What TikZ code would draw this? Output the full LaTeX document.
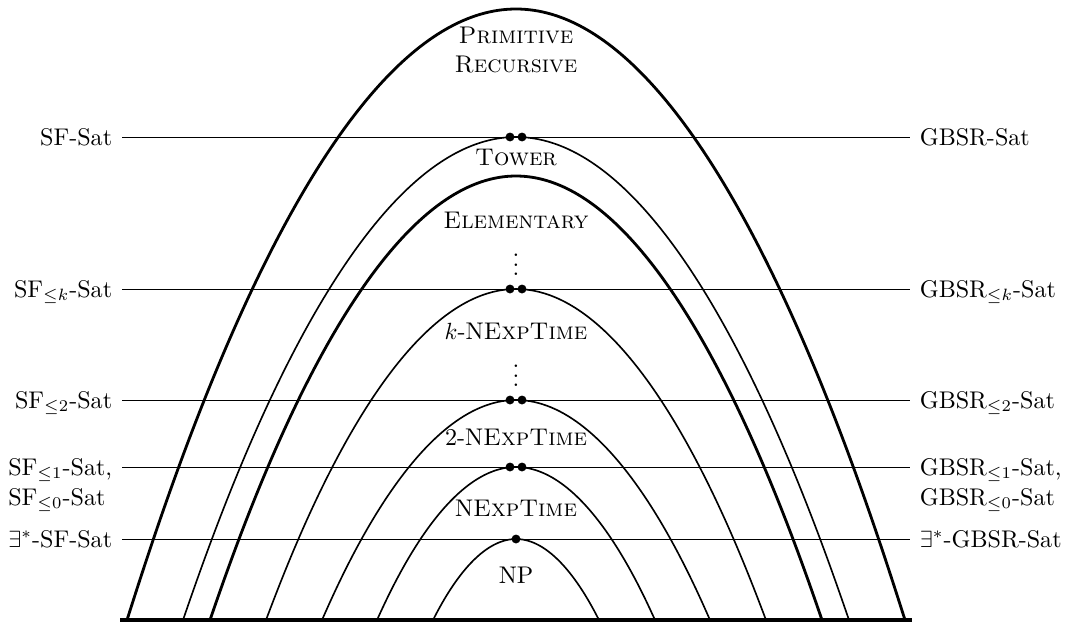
\documentclass[tikz,border=0pt]{standalone}
\usepackage{amssymb}
\begin{document}
\begin{tikzpicture}[x=0.01502cm,y=-0.01502cm,
  every node/.style={font=\fontsize{10.3}{12.4}\selectfont},
  arcthick/.style={line width=1.2pt},
  arcthin/.style={line width=0.7pt},
  hline/.style={line width=0.4pt},
  baseln/.style={line width=1.3pt},
  dotmark/.style={fill=black},
  lab/.style={inner xsep=4pt,inner ysep=0pt,text height=7pt,text depth=0pt},
  labL/.style={lab,anchor=east},
  labR/.style={lab,anchor=west},
  labW/.style={lab,anchor=west},
  cls/.style={inner sep=0pt,align=center}]
\useasboundingbox (0,0) rectangle (1071,622);
% arcs
\draw[arcthick] (127,620) parabola bend (516,9) (905,620);
\draw[arcthin] (183,620) parabola bend (516,137) (849,620);
\draw[arcthick] (210,620) parabola bend (516,176) (822,620);
\draw[arcthin] (266,620) parabola bend (516,289) (766,620);
\draw[arcthin] (322,620) parabola bend (516,400) (710,620);
\draw[arcthin] (377,620) parabola bend (516,467) (655,620);
\draw[arcthin] (433,620) parabola bend (516,539) (599,620);
\draw[baseln] (120,620) -- (912,620);
% class labels
\node[cls] (pr) at (516,50) {\textsc{Primitive}\\\textsc{Recursive}};
\node[cls] (tower) at (516,157) {\textsc{Tower}};
\node[cls] (elem) at (516,220) {\textsc{Elementary}};
\node[cls] (vd1) at (516,258) {$\vdots$};
\node[cls] (knexp) at (516,331) {$k$-N\textsc{ExpTime}};
\node[cls] (vd2) at (516,369) {$\vdots$};
\node[cls] (twonexp) at (516,437) {2-N\textsc{ExpTime}};
\node[cls] (nexp) at (516,508) {N\textsc{ExpTime}};
\node[cls] (np) at (516,575) {NP};
% problem labels
\node[labL] (sf) at (122,137) {SF-Sat};
\node[labR] (gb) at (910,137) {GBSR-Sat};
\node[labL] (sfk) at (122,289) {SF$_{\le k}$-Sat};
\node[labR] (gbk) at (910,289) {GBSR$_{\le k}$-Sat};
\node[labL] (sf2) at (122,400) {SF$_{\le 2}$-Sat};
\node[labR] (gb2) at (910,400) {GBSR$_{\le 2}$-Sat};
\node[labL] (sf1) at (122,467) {SF$_{\le 1}$-Sat,};
\node[labW] (sf0) at ([yshift=-12.8pt]sf1.west) {SF$_{\le 0}$-Sat};
\node[labR] (gb1) at (910,467) {GBSR$_{\le 1}$-Sat,};
\node[labW] (gb0) at ([yshift=-12.8pt]gb1.west) {GBSR$_{\le 0}$-Sat};
\node[labL] (sfe) at (122,539) {$\exists^*$-SF-Sat};
\node[labR] (gbe) at (910,539) {$\exists^*$-GBSR-Sat};
\draw[hline] (sf.east) -- (gb.west);
\draw[hline] (sfk.east) -- (gbk.west);
\draw[hline] (sf2.east) -- (gb2.west);
\draw[hline] (sf1.east) -- (gb1.west);
\draw[hline] (sfe.east) -- (gbe.west);
% dots
\foreach \yy in {137,289,400,467}{
  \fill[dotmark] (510,\yy) circle (1.9pt);
  \fill[dotmark] (522,\yy) circle (1.9pt);
}
\fill[dotmark] (516,539) circle (1.9pt);
\end{tikzpicture}
\end{document}
